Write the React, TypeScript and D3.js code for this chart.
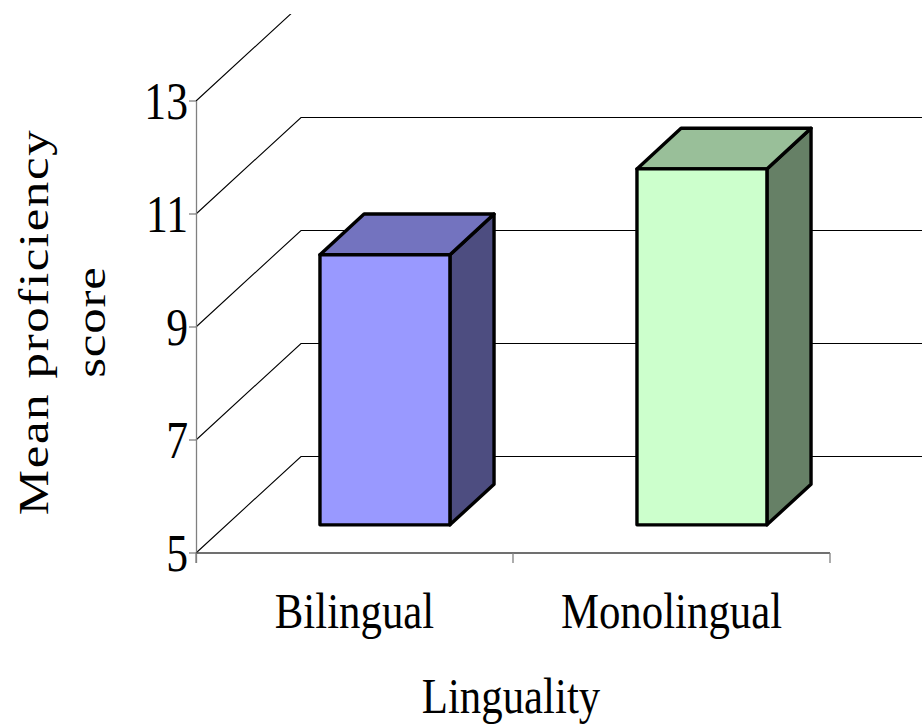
import React from "react";
import * as d3 from "d3";

const categories = ["Bilingual", "Monolingual"];
const values = [9.78, 11.3];
const yTicks = [5, 7, 9, 11, 13];
const frontColors = ["#9999FF", "#CCFFCC"];
const xTitle = "Linguality";
const yTitleLines = ["Mean proficiency", "score"];

const W = 922;
const H = 725;
const DX = 105;
const DY = -97;
const Z0 = 0.29;
const Z1 = 0.71;
const FONT = "'Liberation Serif', 'Times New Roman', serif";
const SX = 0.84;

const shade = (hex: string, k: number) => {
  const c = d3.rgb(hex);
  return d3.rgb(c.r * k, c.g * k, c.b * k).formatHex();
};

export default function App() {
  const y = d3.scaleLinear().domain([5, 13]).range([553, 101]);
  const x = d3.scaleBand<string>().domain(categories).range([196, 830]).padding(0);
  const barW = x.bandwidth() * 0.41;
  const P = (px: number, v: number, z: number): [number, number] => [px + DX * z, y(v) + DY * z];
  const poly = (pts: [number, number][]) => d3.line()(pts)! + "Z";
  const [ymin] = y.domain();

  return (
    <svg width={W} height={H} style={{ position: "absolute", left: 0, top: 0, background: "#fff" }}>
      <defs>
        <clipPath id="plotclip">
          <rect x={0} y={14} width={W} height={H} />
        </clipPath>
      </defs>
      <g clipPath="url(#plotclip)">
        {yTicks.map((t) => {
          const a = P(x.range()[0], t, 0);
          const b = P(x.range()[0], t, 1);
          const c = P(x.range()[1], t, 1);
          const pts: [number, number][] = [a, [b[0], Math.round(b[1]) + 0.5], [c[0], Math.round(c[1]) + 0.5]];
          return (
            <path key={t} d={d3.line()(pts)!} fill="none" stroke="#000" strokeWidth={1.1} />
          );
        })}
      </g>
      {/* axes */}
      <line x1={196.5} x2={196.5} y1={y(13)} y2={y(5) + 10} stroke="#808080" strokeWidth={1.3} />
      <line x1={196} x2={830} y1={y(5)} y2={y(5)} stroke="#404040" strokeWidth={1.3} />
      {yTicks.map((t) => (
        <line key={t} x1={189} x2={196} y1={y(t)} y2={y(t)} stroke="#808080" strokeWidth={1.3} />
      ))}
      {[196, 196 + x.step(), 196 + 2 * x.step()].map((tx, i) => (
        <line key={i} x1={tx} x2={tx} y1={y(5)} y2={y(5) + 10} stroke="#808080" strokeWidth={1.3} />
      ))}
      {/* bars */}
      {categories.map((cat, i) => {
        const c = x(cat)! + x.bandwidth() / 2;
        const x0 = c - barW / 2;
        const x1 = c + barW / 2;
        const v = values[i];
        const top = shade(frontColors[i], 0.75);
        const side = shade(frontColors[i], 0.5);
        const front = poly([P(x0, ymin, Z0), P(x1, ymin, Z0), P(x1, v, Z0), P(x0, v, Z0)]);
        const topF = poly([P(x0, v, Z0), P(x1, v, Z0), P(x1, v, Z1), P(x0, v, Z1)]);
        const sideF = poly([P(x1, ymin, Z0), P(x1, v, Z0), P(x1, v, Z1), P(x1, ymin, Z1)]);
        return (
          <g key={cat} stroke="#000" strokeWidth={3.4} strokeLinejoin="round">
            <path d={sideF} fill={side} />
            <path d={topF} fill={top} />
            <path d={front} fill={frontColors[i]} />
          </g>
        );
      })}
      {/* tick labels */}
      {yTicks.map((t) => (
        <g key={t} transform={`translate(188,${y(t)}) scale(${SX},1)`}>
          <text textAnchor="end" dy="0.35em" fontFamily={FONT} fontSize={52} fill="#000">
            {t}
          </text>
        </g>
      ))}
      {categories.map((cat) => (
        <g key={cat} transform={`translate(${x(cat)! + x.bandwidth() / 2},628) scale(${SX},1)`}>
          <text textAnchor="middle" fontFamily={FONT} fontSize={51} fill="#000">
            {cat}
          </text>
        </g>
      ))}
      <g transform={`translate(511,713) scale(${SX},1)`}>
        <text textAnchor="middle" fontFamily={FONT} fontSize={51} fill="#000">
          {xTitle}
        </text>
      </g>
      {yTitleLines.map((ln, i) => (
        <g key={ln} transform={`translate(${48 + i * 57},322) scale(${SX},1)`}>
          <text transform="rotate(-90)" textAnchor="middle" fontFamily={FONT} fontSize={51} fill="#000" letterSpacing={i === 0 ? 1.6 : 0.8}>
            {ln}
          </text>
        </g>
      ))}
    </svg>
  );
}
